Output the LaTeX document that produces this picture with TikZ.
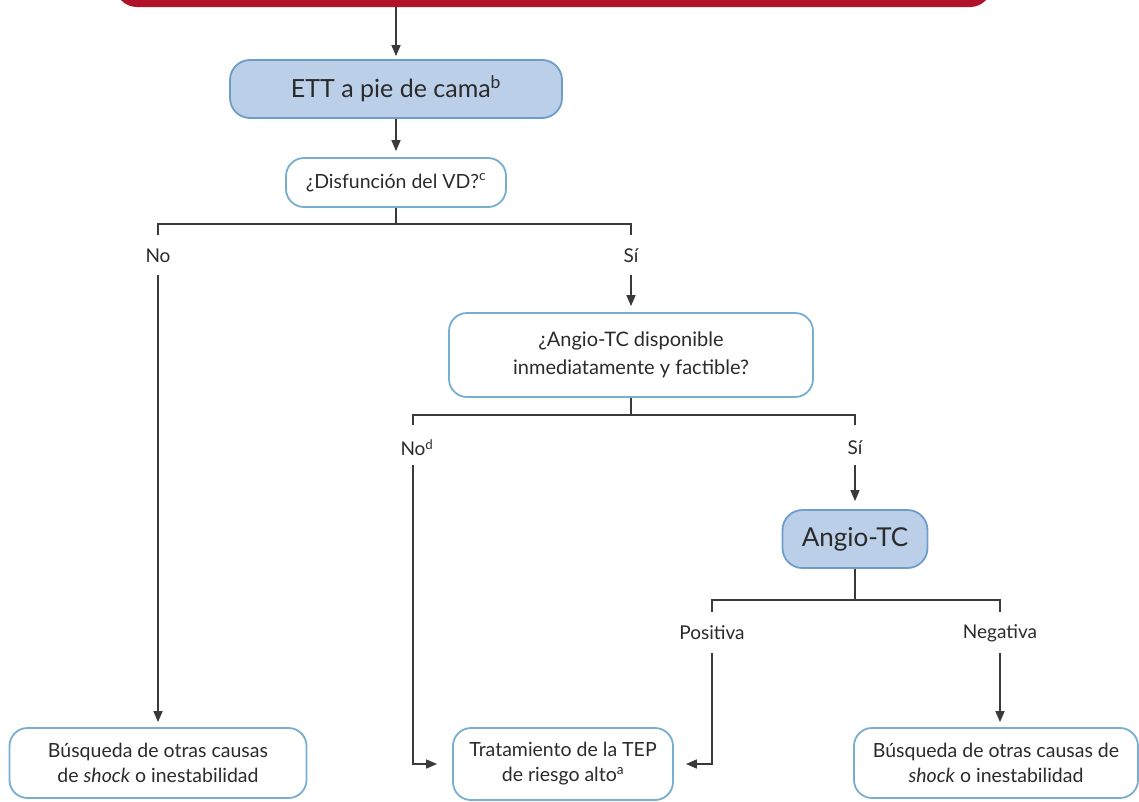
\documentclass[tikz,border=0pt]{standalone}
\usepackage{fontspec}
\setmainfont{Lato}
\usetikzlibrary{arrows.meta,calc}
\definecolor{redbox}{HTML}{B01229}
\definecolor{bluefill}{HTML}{BBCFE9}
\definecolor{blueedge}{HTML}{6F9DCB}
\definecolor{whiteedge}{HTML}{78AECF}
\definecolor{txt}{HTML}{2B2B2B}
\definecolor{ln}{HTML}{3A3A3A}
\begin{document}
\begin{tikzpicture}[x=1pt,y=-1pt,
  bluebox/.style={draw=blueedge, fill=bluefill, line width=1.8pt, rounded corners=20pt, text=txt, align=center},
  whitebox/.style={draw=whiteedge, fill=white, line width=1.8pt, rounded corners=18pt, text=txt, align=center},
  lbl/.style={text=txt, font=\fontsize{19}{22}\selectfont, inner sep=0pt},
  conn/.style={draw=ln, line width=1.5pt},
  arr/.style={conn, -{Triangle[length=11pt,width=9pt]}},
  bottomtext/.style={font=\fontsize{19.5}{25}\selectfont}
]
\useasboundingbox (0,0) rectangle (1139,801);
\clip (0,0) rectangle (1139,801);
\fill[white] (0,0) rectangle (1139,801);

% nodes
\node[fill=redbox, rounded corners=22pt, minimum width=877pt, minimum height=60pt, inner sep=0pt] (top) at (553.5,-23) {};
\node[bluebox, minimum width=332pt, minimum height=58pt, font=\fontsize{25}{29}\selectfont] (ett) at (396,89) {ETT a pie de cama\textsuperscript{b}};
\node[whitebox, minimum width=220pt, minimum height=49pt, font=\fontsize{19.5}{23}\selectfont] (dis) at (396,182.5) {¿Disfunción del VD?\textsuperscript{c}};
\node[whitebox, minimum width=364pt, minimum height=84pt, font=\fontsize{20}{28}\selectfont] (angd) at (631,355) {¿Angio-TC disponible\\inmediatamente y factible?};
\node[bluebox, minimum width=145pt, minimum height=58pt, font=\fontsize{26}{30}\selectfont] (angio) at (855,539) {Angio-TC};
\node[whitebox, bottomtext, minimum width=297pt, minimum height=70pt] (b1) at (158,763) {Búsqueda de otras causas\\de \textit{shock} o inestabilidad};
\node[whitebox, bottomtext, minimum width=220pt, minimum height=72pt] (b2) at (563,764) {Tratamiento de la TEP\\de riesgo alto\textsuperscript{a}};
\node[whitebox, bottomtext, minimum width=284pt, minimum height=70pt] (b3) at (996,763) {Búsqueda de otras causas de\\\textit{shock} o inestabilidad};

% top arrows
\draw[arr, shorten >=3pt] (top.south -| ett.north) -- (ett.north);
\draw[arr, shorten >=6pt] (ett.south) -- (dis.north);

% level 1
\coordinate (h1) at (396,224);
\coordinate (n1a) at (158,235);
\coordinate (s1a) at (631,235);
\draw[conn] (dis.south) -- (h1);
\draw[conn] (n1a) |- (h1) -| (s1a);
\node[lbl] (no1) at (158,256) {No};
\node[lbl] (si1) at (631,256) {Sí};
\coordinate (n1b) at (158,275);
\coordinate (s1b) at (631,275);
\draw[arr, shorten >=5pt] (n1b) -- (n1b |- b1.north);
\draw[arr, shorten >=6pt] (s1b) -- (s1b |- angd.north);

% level 2
\coordinate (h2) at (631,415);
\coordinate (n2a) at (413,425);
\coordinate (s2a) at (855,425);
\draw[conn] (angd.south) -- (h2);
\draw[conn] (n2a) |- (h2) -| (s2a);
\node[lbl] (no2) at (413,448) {No\rlap{\textsuperscript{d}}};
\node[lbl] (si2) at (855,448) {Sí};
\coordinate (n2b) at (413,465);
\coordinate (s2b) at (855,465);
\draw[arr] (n2b) |- ([xshift=-15pt]b2.west);
\draw[arr, shorten >=8pt] (s2b) -- (s2b |- angio.north);

% level 3
\coordinate (h3) at (855,600);
\coordinate (p3a) at (712,612);
\coordinate (g3a) at (1000,612);
\draw[conn] (angio.south) -- (h3);
\draw[conn] (p3a) |- (h3) -| (g3a);
\node[lbl] (pos) at (712,633) {Positiva};
\node[lbl] (neg) at (1000,633) {Negativa};
\coordinate (p3b) at (712,653);
\coordinate (g3b) at (1000,653);
\draw[arr] (p3b) |- ([xshift=12pt]b2.east);
\draw[arr, shorten >=5pt] (g3b) -- (g3b |- b3.north);
\end{tikzpicture}
\end{document}
